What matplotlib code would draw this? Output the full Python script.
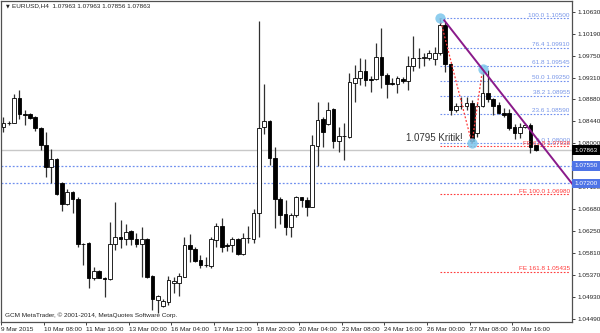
import numpy as np
import matplotlib
matplotlib.use('Agg')
import matplotlib.pyplot as plt
import matplotlib.transforms as mtransforms

# ********************************* data ************************************
# EURUSD H4 candles, 9 Mar 2015 00:00 .. 31 Mar
opens = [
    1.08326, 1.08406, 1.08412, 1.08912, 1.08580, 1.08580, 1.08520, 1.08312, 1.07966, 1.07520,
    1.07680, 1.07200, 1.06786, 1.07032, 1.06880, 1.05986, 1.06000, 1.05300, 1.05452, 1.05300,
    1.05280, 1.05986, 1.06120, 1.06080, 1.06252, 1.06086, 1.05986, 1.06080, 1.05346, 1.04866,
    1.04746, 1.04832, 1.05200, 1.05212, 1.05332, 1.05966, 1.05892, 1.05666, 1.05566, 1.05546,
    1.06066, 1.06352, 1.05960, 1.05966, 1.06080, 1.05786, 1.06100, 1.06080, 1.06600, 1.08320,
    1.08452, 1.07700, 1.06886, 1.06580, 1.06332, 1.06566, 1.06920, 1.06866, 1.06720, 1.07952,
    1.08486, 1.08386, 1.08680, 1.08052, 1.08146, 1.08120, 1.09212, 1.09312, 1.09452, 1.09280,
    1.09280, 1.09720, 1.09366, 1.09200, 1.09186, 1.09286, 1.09252, 1.09546, 1.09700, 1.09706,
    1.09700, 1.09686, 1.09812, 1.10366, 1.09586, 1.08666, 1.08746, 1.08746, 1.08800, 1.08212,
    1.08746, 1.09012, 1.08880, 1.08766, 1.08612, 1.08612, 1.08332, 1.08200, 1.08320, 1.08366,
    1.07963]
highs = [
    1.08526, 1.08456, 1.08980, 1.09066, 1.08666, 1.08612, 1.08546, 1.08326, 1.08220, 1.07880,
    1.07700, 1.07232, 1.07080, 1.07052, 1.06932, 1.06012, 1.06032, 1.05532, 1.05466, 1.05332,
    1.06432, 1.06832, 1.06466, 1.06386, 1.06266, 1.06200, 1.06332, 1.06100, 1.05366, 1.04966,
    1.04880, 1.05346, 1.05332, 1.05412, 1.06120, 1.06186, 1.05920, 1.05766, 1.05732, 1.06132,
    1.06400, 1.06500, 1.06000, 1.06120, 1.06100, 1.06200, 1.06346, 1.06680, 1.10452, 1.09186,
    1.08466, 1.07932, 1.06932, 1.06866, 1.06600, 1.06946, 1.06932, 1.06932, 1.08166, 1.08820,
    1.08532, 1.08832, 1.08700, 1.08332, 1.08412, 1.09412, 1.09566, 1.09700, 1.09680, 1.09346,
    1.10012, 1.10300, 1.09412, 1.09300, 1.09346, 1.09320, 1.09746, 1.10146, 1.09900, 1.09812,
    1.09866, 1.09926, 1.10500, 1.10432, 1.09612, 1.08800, 1.08932, 1.08920, 1.08866, 1.08800,
    1.09480, 1.09466, 1.08900, 1.08832, 1.08700, 1.08680, 1.08386, 1.08400, 1.08412, 1.08400,
    1.07963]
lows = [
    1.08226, 1.08366, 1.08406, 1.08480, 1.08366, 1.08480, 1.08246, 1.07866, 1.07332, 1.07200,
    1.06966, 1.06652, 1.06766, 1.06600, 1.05920, 1.05566, 1.05100, 1.05266, 1.05300, 1.04932,
    1.05266, 1.05866, 1.05900, 1.05966, 1.05966, 1.05932, 1.05332, 1.05300, 1.04666, 1.04600,
    1.04732, 1.04766, 1.05000, 1.04946, 1.05332, 1.05632, 1.05626, 1.05500, 1.05532, 1.05500,
    1.05932, 1.05832, 1.05852, 1.05832, 1.05766, 1.05766, 1.06000, 1.06000, 1.06120, 1.08186,
    1.07566, 1.06300, 1.06386, 1.06166, 1.06120, 1.06532, 1.06732, 1.06546, 1.06720, 1.07546,
    1.07932, 1.08366, 1.07900, 1.07832, 1.07666, 1.08100, 1.08832, 1.09166, 1.09146, 1.09032,
    1.09266, 1.09100, 1.08900, 1.09166, 1.08999, 1.09200, 1.09066, 1.09446, 1.09500, 1.09546,
    1.09666, 1.09566, 1.09766, 1.09432, 1.08566, 1.08632, 1.08680, 1.08666, 1.08000, 1.08132,
    1.08732, 1.08832, 1.08566, 1.08586, 1.08532, 1.08266, 1.08080, 1.08100, 1.08300, 1.07812,
    1.07856]
closes = [
    1.08406, 1.08416, 1.08912, 1.08580, 1.08566, 1.08512, 1.08300, 1.07966, 1.07520, 1.07680,
    1.06986, 1.06786, 1.07020, 1.06880, 1.05986, 1.05980, 1.05300, 1.05452, 1.05312, 1.05286,
    1.05986, 1.06120, 1.06080, 1.06220, 1.06086, 1.05986, 1.06080, 1.05332, 1.04880, 1.04946,
    1.04846, 1.05266, 1.05252, 1.05346, 1.05966, 1.05880, 1.05652, 1.05566, 1.05560, 1.06080,
    1.06352, 1.05932, 1.05946, 1.06080, 1.05786, 1.06100, 1.06106, 1.06600, 1.08300, 1.08452,
    1.07700, 1.06886, 1.06566, 1.06332, 1.06566, 1.06932, 1.06866, 1.06732, 1.07966, 1.08466,
    1.08220, 1.08666, 1.08052, 1.08146, 1.08140, 1.09220, 1.09300, 1.09452, 1.09266, 1.09272,
    1.09720, 1.09366, 1.09186, 1.09190, 1.09300, 1.09252, 1.09546, 1.09700, 1.09706, 1.09720,
    1.09812, 1.09806, 1.10366, 1.09586, 1.08666, 1.08746, 1.08752, 1.08800, 1.08052, 1.08746,
    1.09012, 1.08880, 1.08746, 1.08600, 1.08566, 1.08312, 1.08200, 1.08332, 1.08366, 1.07932,
    1.07863]

time_labels = ['9 Mar 2015', '10 Mar 08:00', '11 Mar 16:00', '13 Mar 00:00', '16 Mar 04:00',
               '17 Mar 12:00', '18 Mar 20:00', '20 Mar 04:00', '23 Mar 08:00', '24 Mar 16:00',
               '26 Mar 00:00', '27 Mar 08:00', '30 Mar 16:00']
# 1.07560 is hidden behind the 1.07550 box
price_ticks = [1.04490, 1.04930, 1.05370, 1.05810, 1.06250, 1.06680, 1.07120,
               1.08000, 1.08440, 1.08880, 1.09310, 1.09750, 1.10190, 1.10630]

# fibo retracement (A -> B) and expansion (A, B, C)
fib_pcts = ['100.0', '76.4', '61.8', '50.0', '38.2', '23.6', '0.0']
fib_prices = [1.10500, 1.09910, 1.09545, 1.09250, 1.08955, 1.08590, 1.08000]
fe_pcts = ['61.8', '100.0', '161.8']
fe_prices = [1.07938, 1.06980, 1.05435]
pivot_bars = [82, 88, 90]
pivot_prices = [1.10500, 1.08000, 1.09480]
trend_bars = [83, 90]
trend_prices = [1.10432, 1.09480]
hlines = [1.07550, 1.07200]
last_price = 1.07863

BLUE = '#6f8fee'
RED = '#ff3b3b'
FONT = 'Liberation Sans'
FS = 4.6

# ********************************* plot ************************************
fig = plt.figure(figsize=(6, 3.33), dpi=100)
ax = fig.add_axes([1 / 600., 11 / 333., 571 / 600., 321 / 333.])
n = len(opens)
x = np.arange(n)
o = np.array(opens)
h = np.array(highs)
l = np.array(lows)
c = np.array(closes)
XMIN, XMAX = -0.32, 106.8
ax.set_xlim(XMIN, XMAX)
ax.set_ylim(1.04426, 1.10846)

# grey line of the current price, blue levels
ax.axhline(last_price, color='#c8c8c8', lw=1.0, zorder=1)
for p in hlines:
    ax.axhline(p, color=BLUE, lw=0.9, ls=(0, (1.5, 1.5)), zorder=1)

# candles
up = c >= o
ax.vlines(x, l, h, color='#303030', lw=0.9, zorder=2)
ax.bar(x, np.abs(c - o), bottom=np.minimum(o, c), width=0.7,
       color=np.where(up, 'white', 'black'), edgecolor='black', lw=0.6, zorder=3)

# fibo lines
x0 = pivot_bars[0]
x1 = 106.4
for pct, p in zip(fib_pcts, fib_prices):
    ax.plot([x0, x1], [p, p], color=BLUE, lw=0.8, ls=(0, (1.5, 1.5)), zorder=1)
    ax.text(x1, p + 0.00012, '%s %.5f' % (pct, p), color='#7896e8', fontsize=FS,
            family=FONT, ha='right', va='bottom', zorder=4)
for pct, p in zip(fe_pcts, fe_prices):
    ax.plot([x0, x1], [p, p], color=RED, lw=0.8, ls=(0, (1.5, 1.5)), zorder=1)
    ax.text(x1, p + 0.00012, 'FE %s %.5f' % (pct, p), color=RED, fontsize=FS,
            family=FONT, ha='right', va='bottom', zorder=4)
ax.plot(pivot_bars, pivot_prices, color=RED, lw=0.9, ls=(0, (1.5, 1.5)), zorder=4)
ax.scatter(pivot_bars, pivot_prices, s=55, color='#7cc6ec', alpha=0.85, lw=0, zorder=5)

# trend line
slope = (trend_prices[1] - trend_prices[0]) / (trend_bars[1] - trend_bars[0])
tx = np.array([82.8, XMAX])
ax.plot(tx, trend_prices[0] + slope * (tx - trend_bars[0]), color='#8a1a8a', lw=1.4,
        zorder=6, clip_on=False)

ax.text(75.7, 1.08112, '1.0795 Kritik!', fontsize=7, family=FONT, color='#333333',
        ha='left', va='center', zorder=6)

# texts
ax.text(0.008, 0.992, '\u25bc', transform=ax.transAxes, fontsize=3.5, color='#222222',
        ha='left', va='top')
ax.text(0.019, 0.993, 'EURUSD,H4  1.07963 1.07963 1.07856 1.07863', transform=ax.transAxes,
        fontsize=FS, family=FONT, color='#222222', ha='left', va='top')
ax.text(0.007, 0.012, 'GCM MetaTrader, \u00a9 2001-2014, MetaQuotes Software Corp.',
        transform=ax.transAxes, fontsize=FS, family=FONT, color='#222222',
        ha='left', va='bottom')

# axes
for s in ax.spines.values():
    s.set_color('#505050')
    s.set_linewidth(0.9)
ax.yaxis.tick_right()
ax.set_yticks(price_ticks)
ax.set_yticklabels(['%.5f' % v for v in price_ticks])
ax.set_xticks(np.arange(len(time_labels)) * 8 - 0.45)
ax.set_xticklabels(time_labels, ha='left')
ax.tick_params(axis='both', labelsize=FS, colors='#222222', length=2.5, width=0.6, pad=1.2)
for t in ax.get_xticklabels() + ax.get_yticklabels():
    t.set_family(FONT)

# price boxes on the right axis
trans = mtransforms.blended_transform_factory(ax.transAxes, ax.transData)
for p, fc in [(last_price, 'black')] + [(v, '#4f74e6') for v in hlines]:
    ax.text(1.004, p, '%.5f' % p, transform=trans, fontsize=FS, family=FONT, color='white',
            ha='left', va='center', clip_on=False, zorder=10,
            bbox=dict(boxstyle='square,pad=0.35', fc=fc, ec='none'))

fig.savefig('out.png', dpi=100)
